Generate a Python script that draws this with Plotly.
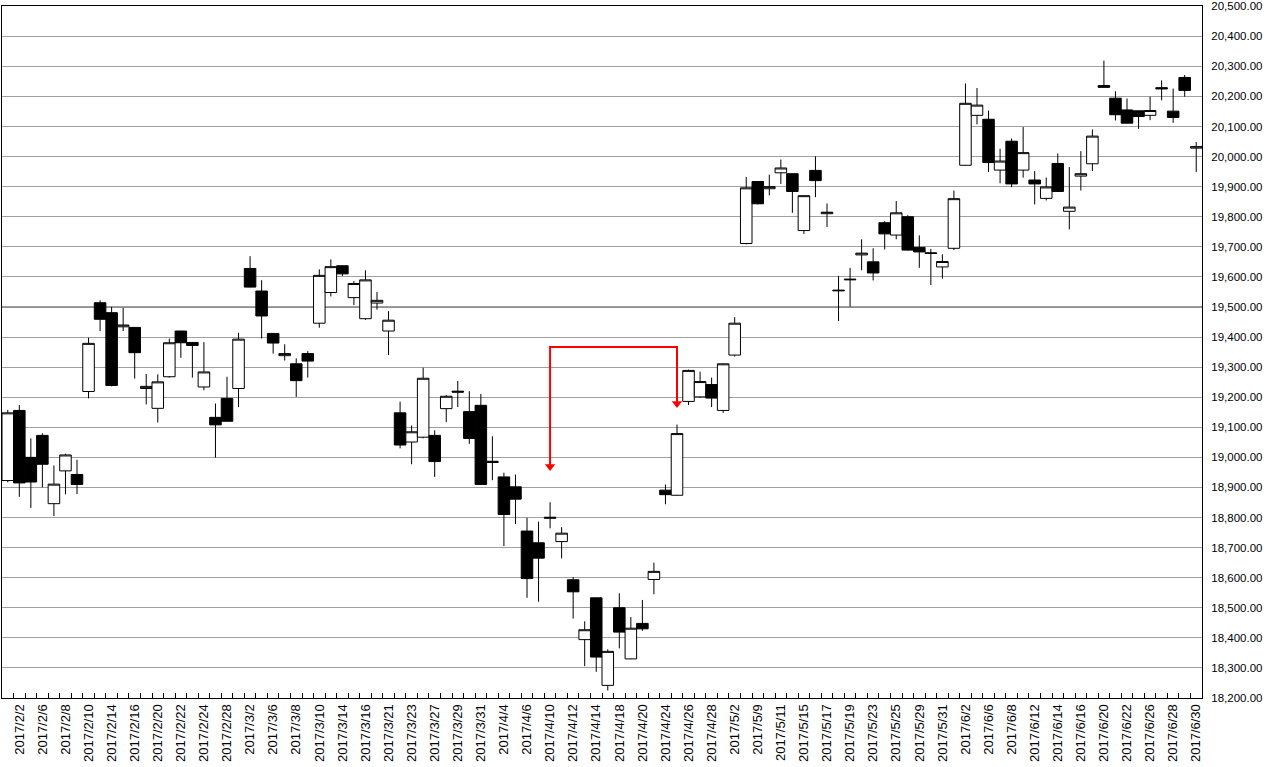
import plotly.graph_objects as go

# ---------------- data ----------------
dates = [
    "2017/2/1", "2017/2/2", "2017/2/3", "2017/2/6", "2017/2/7", "2017/2/8", "2017/2/9", "2017/2/10",
    "2017/2/13", "2017/2/14", "2017/2/15", "2017/2/16", "2017/2/17", "2017/2/20", "2017/2/21", "2017/2/22",
    "2017/2/23", "2017/2/24", "2017/2/27", "2017/2/28",
    "2017/3/1", "2017/3/2", "2017/3/3", "2017/3/6", "2017/3/7", "2017/3/8", "2017/3/9", "2017/3/10",
    "2017/3/13", "2017/3/14", "2017/3/15", "2017/3/16", "2017/3/17", "2017/3/21", "2017/3/22", "2017/3/23",
    "2017/3/24", "2017/3/27", "2017/3/28", "2017/3/29", "2017/3/30", "2017/3/31",
    "2017/4/3", "2017/4/4", "2017/4/5", "2017/4/6", "2017/4/7", "2017/4/10", "2017/4/11", "2017/4/12",
    "2017/4/13", "2017/4/14", "2017/4/17", "2017/4/18", "2017/4/19", "2017/4/20", "2017/4/21", "2017/4/24",
    "2017/4/25", "2017/4/26", "2017/4/27", "2017/4/28",
    "2017/5/1", "2017/5/2", "2017/5/8", "2017/5/9", "2017/5/10", "2017/5/11", "2017/5/12", "2017/5/15",
    "2017/5/16", "2017/5/17", "2017/5/18", "2017/5/19", "2017/5/22", "2017/5/23", "2017/5/24", "2017/5/25",
    "2017/5/26", "2017/5/29", "2017/5/30", "2017/5/31",
    "2017/6/1", "2017/6/2", "2017/6/5", "2017/6/6", "2017/6/7", "2017/6/8", "2017/6/9", "2017/6/12",
    "2017/6/13", "2017/6/14", "2017/6/15", "2017/6/16", "2017/6/19", "2017/6/20", "2017/6/21", "2017/6/22",
    "2017/6/23", "2017/6/26", "2017/6/27", "2017/6/28", "2017/6/29", "2017/6/30",
]

opens = [
    18923, 19156, 19000, 19073, 18846, 18955, 18943, 19219, 19514, 19481, 19434, 19432, 19229, 19163,
    19268, 19420, 19382, 19234, 19133, 19196,
    19229, 19628, 19553, 19412, 19338, 19311, 19345, 19446, 19548, 19637, 19531, 19461, 19513, 19420,
    19148, 19051, 19067, 19073, 19162, 19220, 19152, 19173,
    18987, 18935, 18902, 18755, 18716, 18801, 18720, 18593, 18394, 18533, 18242, 18500, 18330, 18448,
    18594, 18891, 18874, 19186, 19201, 19242,
    19156, 19340, 19711, 19917, 19893, 19946, 19943, 19754, 19954, 19810, 19556, 19590, 19673, 19650,
    19780, 19739, 19800, 19698, 19680, 19633,
    19695, 19971, 20137, 20124, 19955, 20051, 19955, 19922, 19861, 19977, 19818, 19935, 19976, 20236,
    20194, 20155, 20152, 20137, 20229, 20151, 20263, 20028,
]

highs = [
    19158, 19174, 19063, 19080, 18973, 19012, 18992, 19398, 19522, 19500, 19497, 19433, 19277, 19276,
    19395, 19421, 19383, 19383, 19179, 19268,
    19414, 19669, 19589, 19413, 19376, 19329, 19353, 19625, 19658, 19638, 19586, 19622, 19550, 19486,
    19185, 19106, 19298, 19090, 19207, 19254, 19220, 19211,
    19070, 18949, 18943, 18799, 18786, 18851, 18768, 18602, 18455, 18534, 18362, 18548, 18469, 18526,
    18650, 18910, 19109, 19292, 19285, 19265,
    19312, 19466, 19932, 19918, 19940, 19990, 19944, 19871, 20001, 19844, 19603, 19630, 19725, 19695,
    19785, 19852, 19805, 19738, 19693, 19675,
    19887, 20243, 20228, 20153, 20026, 20060, 20098, 19952, 19930, 20010, 19965, 20018, 20090, 20319,
    20217, 20193, 20153, 20199, 20253, 20226, 20271, 20048,
]

lows = [
    18917, 18869, 18832, 18900, 18805, 18877, 18878, 19196, 19420, 19236, 19420, 19262, 19176, 19116,
    19265, 19331, 19265, 19223, 18999, 19119,
    19167, 19565, 19395, 19345, 19322, 19201, 19265, 19431, 19535, 19603, 19506, 19457, 19491, 19340,
    19030, 18977, 19063, 18935, 19117, 19167, 19045, 18909,
    18924, 18705, 18778, 18533, 18520, 18764, 18664, 18464, 18306, 18287, 18225, 18365, 18329, 18423,
    18545, 18844, 18873, 19174, 19198, 19167,
    19148, 19335, 19708, 19841, 19871, 19909, 19813, 19743, 19865, 19766, 19453, 19501, 19622, 19588,
    19691, 19725, 19687, 19630, 19573, 19594,
    19689, 19970, 20107, 19949, 19911, 19898, 19930, 19841, 19854, 19883, 19758, 19887, 19952, 20230,
    20120, 20110, 20092, 20121, 20187, 20112, 20199, 19949,
]

closes = [
    19148, 18915, 18918, 18977, 18911, 19008, 18910, 19379, 19459, 19239, 19440, 19348, 19236, 19251,
    19381, 19381, 19372, 19284, 19108, 19120,
    19393, 19566, 19470, 19380, 19345, 19255, 19320, 19605, 19634, 19610, 19578, 19590, 19522, 19456,
    19041, 19085, 19263, 18986, 19203, 19217, 19063, 18910,
    18983, 18810, 18861, 18597, 18665, 18798, 18748, 18553, 18427, 18336, 18355, 18419, 18432, 18430,
    18621, 18876, 19079, 19289, 19252, 19197,
    19311, 19446, 19896, 19843, 19900, 19962, 19884, 19870, 19920, 19815, 19554, 19592, 19679, 19613,
    19743, 19813, 19689, 19683, 19678, 19651,
    19860, 20177, 20171, 19980, 19985, 19909, 20013, 19909, 19899, 19884, 19832, 19943, 20068, 20230,
    20139, 20111, 20133, 20153, 20225, 20130, 20220, 20033,
]

# axis settings
y_min, y_max, y_step = 18200, 20500, 100
highlight_level = 19500

# red arrow path (from 2017/4/10 up, across, and down to 2017/4/25)
arrow_x = ["2017/4/10", "2017/4/10", "2017/4/25", "2017/4/25"]
arrow_y = [18955, 19367, 19367, 19164]

# ---------------- figure ----------------
WIDTH, HEIGHT = 1267, 767
M_L, M_R, M_T, M_B = 2, 65, 6, 69
plot_h = HEIGHT - M_T - M_B
units_per_px = (y_max - y_min) / plot_h
head_size = 9
head_offset = (head_size / 2) * units_per_px  # center of triangle above the tip

fig = go.Figure()

fig.add_trace(go.Candlestick(
    x=dates, open=opens, high=highs, low=lows, close=closes,
    increasing=dict(fillcolor="white", line=dict(color="black", width=1)),
    decreasing=dict(fillcolor="black", line=dict(color="black", width=1)),
    whiskerwidth=0,
    hoverinfo="x+y",
))

# arrow line
line_y = list(arrow_y)
line_y[0] = arrow_y[0] + head_offset
line_y[-1] = arrow_y[-1] + head_offset
fig.add_trace(go.Scatter(
    x=arrow_x, y=line_y, mode="lines",
    line=dict(color="#ff0000", width=2),
    hoverinfo="skip",
))
# arrow heads
fig.add_trace(go.Scatter(
    x=[arrow_x[0], arrow_x[-1]],
    y=[arrow_y[0] + head_offset, arrow_y[-1] + head_offset],
    mode="markers",
    marker=dict(symbol="triangle-down", size=head_size, color="#ff0000", line=dict(width=0)),
    hoverinfo="skip",
))

fig.add_shape(
    type="line", xref="paper", x0=0, x1=1, yref="y", y0=highlight_level, y1=highlight_level,
    line=dict(color="black", width=1), layer="below",
)

ticktext = [d if i % 2 == 1 else "" for i, d in enumerate(dates)]
y_ticks = list(range(y_min, y_max + y_step, y_step))

fig.update_layout(
    width=WIDTH, height=HEIGHT,
    margin=dict(l=M_L, r=M_R, t=M_T, b=M_B, pad=0, autoexpand=False),
    paper_bgcolor="white", plot_bgcolor="white",
    showlegend=False,
    boxgap=0.0, boxgroupgap=0.0,
    font=dict(family="Liberation Sans, Arial, sans-serif", size=12, color="black"),
    xaxis=dict(
        type="category",
        categoryorder="array", categoryarray=dates,
        range=[-0.5, len(dates) - 0.5],
        rangeslider=dict(visible=False),
        tickmode="array", tickvals=dates, ticktext=ticktext,
        tickson="boundaries",
        ticks="inside", ticklen=5, tickcolor="black",
        tickangle=-90,
        tickfont=dict(size=13, color="black"),
        showgrid=False,
        showline=True, mirror=True, linecolor="black", linewidth=1,
        zeroline=False,
        automargin=False,
    ),
    yaxis=dict(
        side="right",
        range=[y_min, y_max + 0.5],
        tickmode="array", tickvals=y_ticks,
        tickformat=",.2f",
        tickfont=dict(size=11.5, color="black"),
        ticklabelstandoff=6,
        ticklabeloverflow="allow",
        showgrid=True, gridcolor="#a0a0a0", gridwidth=1,
        ticks="",
        showline=True, mirror=True, linecolor="black", linewidth=1,
        zeroline=False,
        automargin=False,
    ),
)

fig.write_html(
    "out.html",
    config={"displayModeBar": False},
    post_script="document.body.style.margin='0';document.body.style.overflow='hidden';",
)
